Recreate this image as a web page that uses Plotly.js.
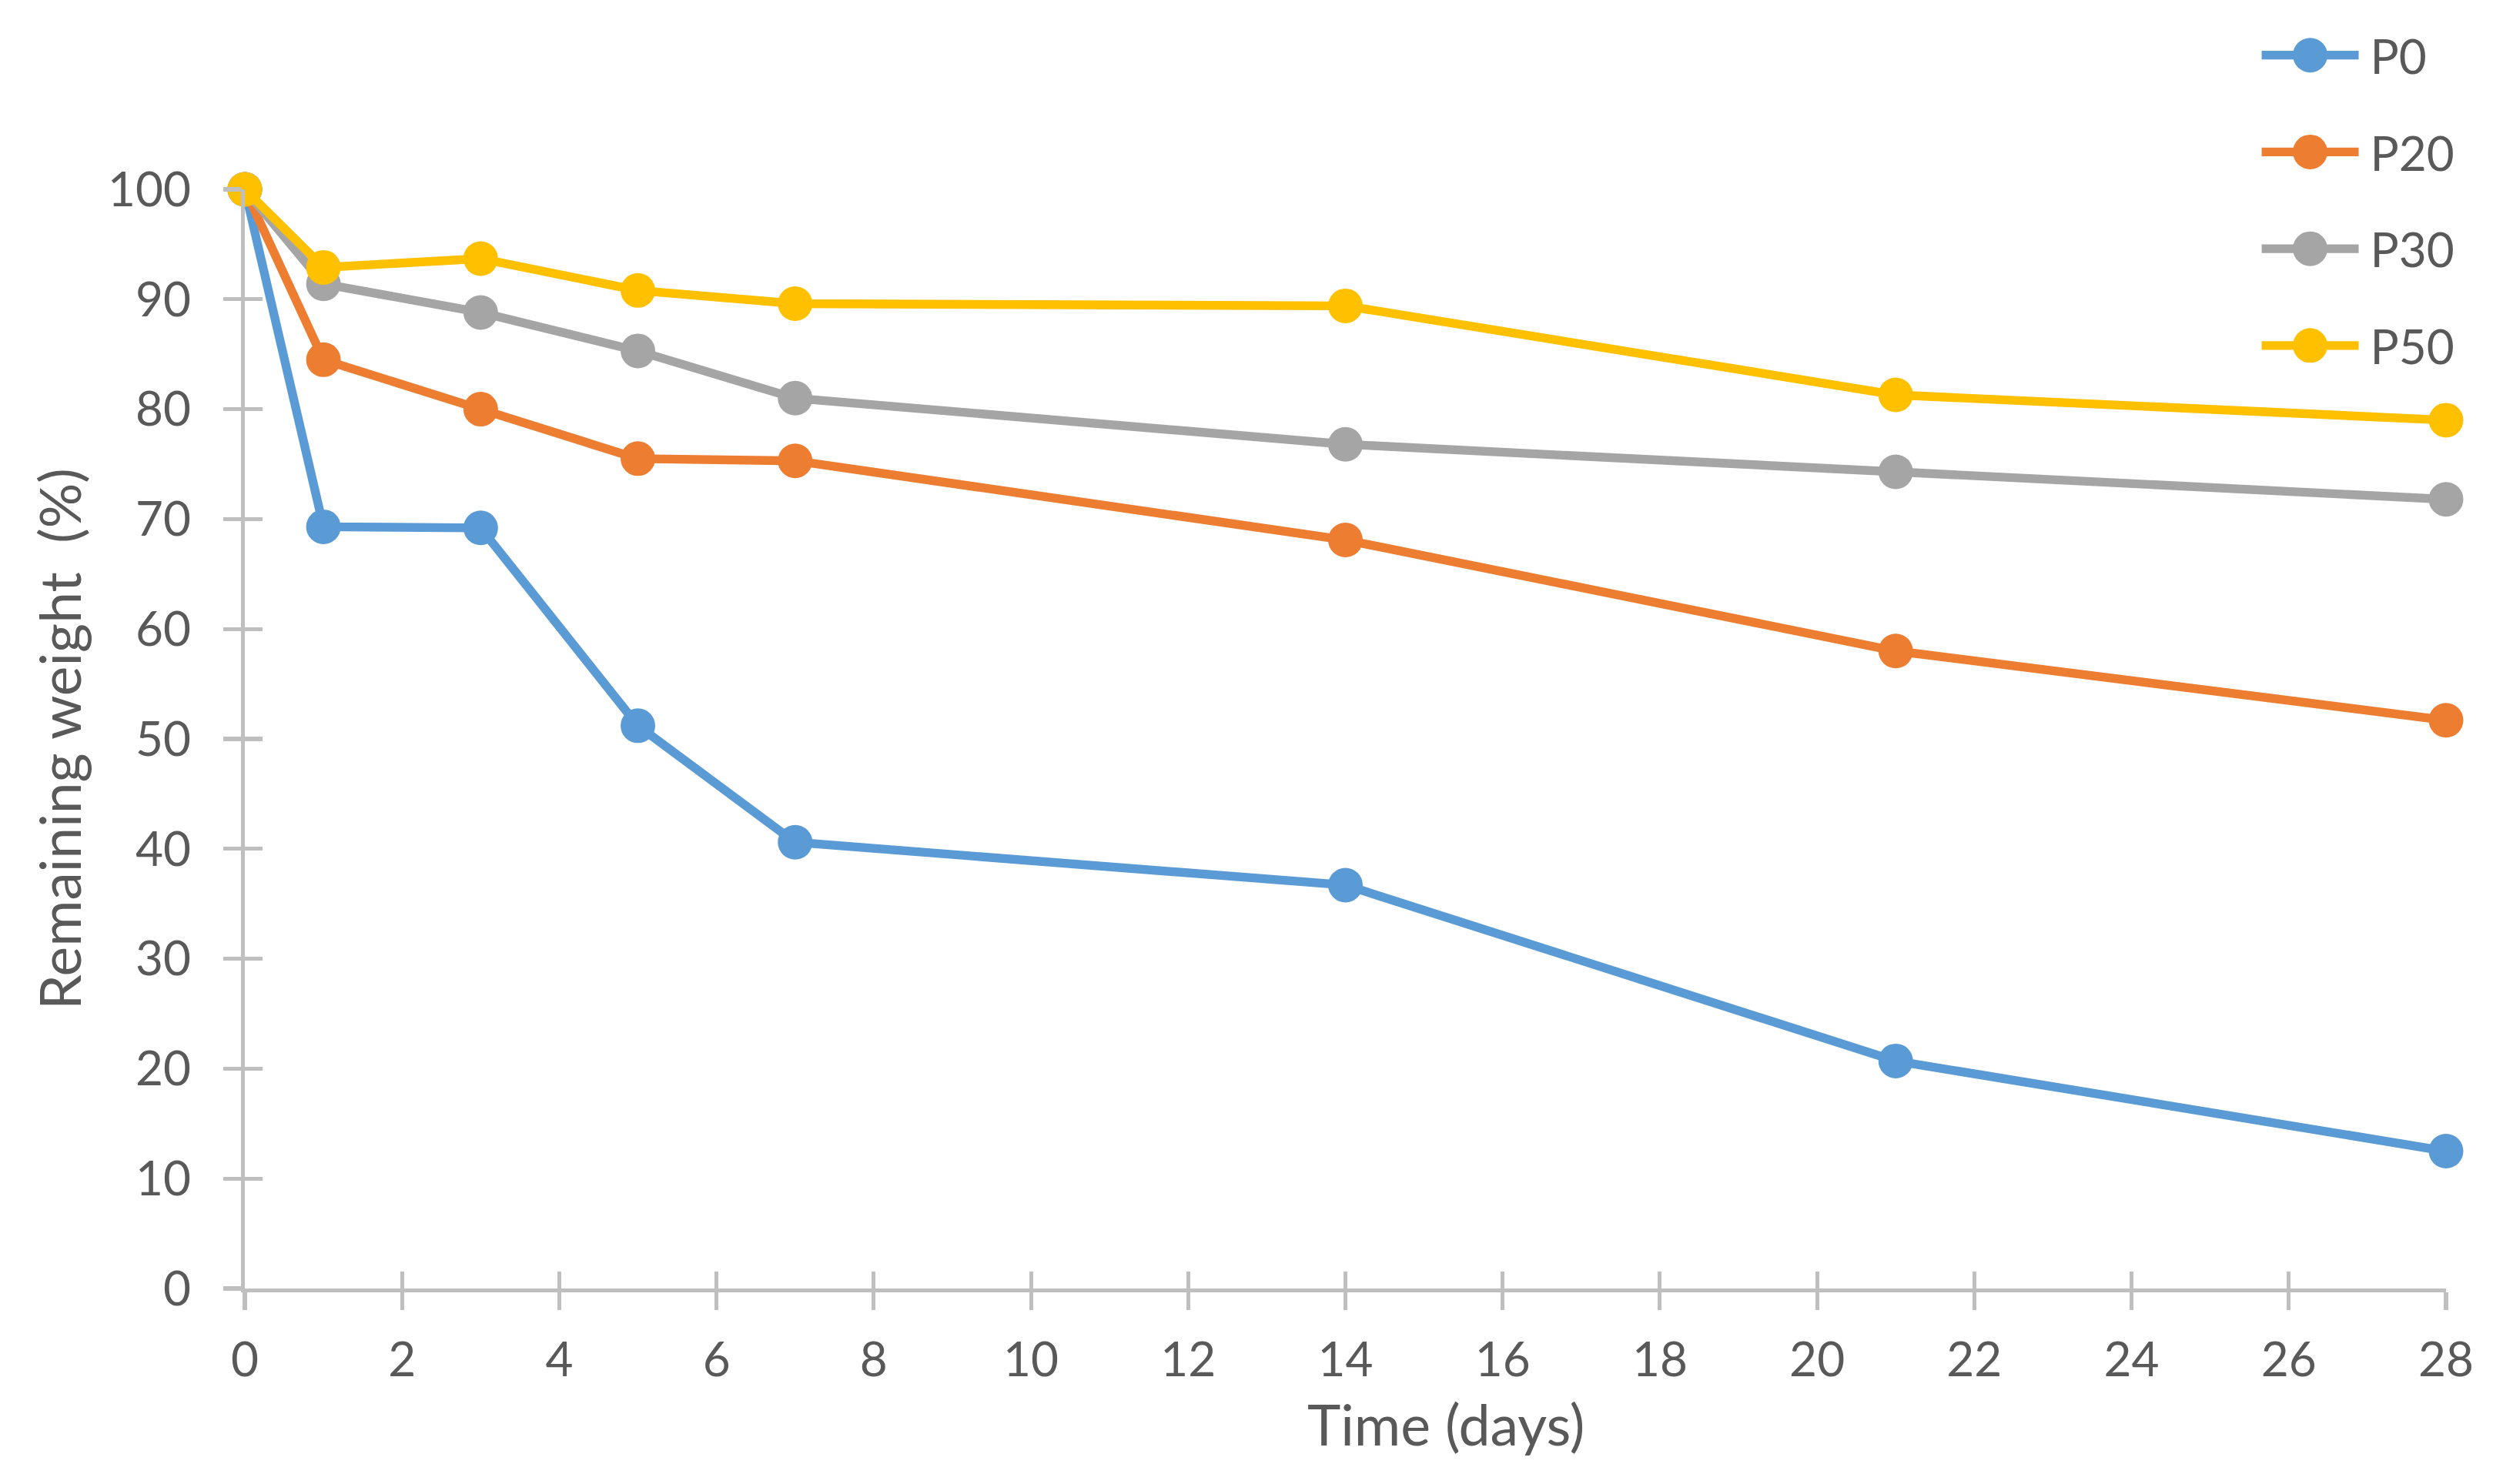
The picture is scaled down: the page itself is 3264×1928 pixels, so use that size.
<!DOCTYPE html>
<html>
<head>
<meta charset="utf-8">
<script src="https://cdn.plot.ly/plotly-3.0.1.min.js"></script>
<style>
html { margin: 0; padding: 0; background: #ffffff; }
body { margin: 0; padding: 0; background: #ffffff; width: 3264px; height: 1928px; position: relative; }
#chart { position: absolute; left: 0; top: 0; width: 1088px; height: 643px; transform: scale(3); transform-origin: 0 0; }
</style>
</head>
<body>
<div id="chart"></div>
<script>
// Data
var days = [0, 1, 3, 5, 7, 14, 21, 28];
var seriesNames = ["P0", "P20", "P30", "P50"];
var P0  = [100, 69.3, 69.2, 51.2, 40.6, 36.7, 20.7, 12.5];
var P20 = [100, 84.5, 80.0, 75.5, 75.3, 68.1, 58.0, 51.7];
var P30 = [100, 91.4, 88.8, 85.3, 81.0, 76.8, 74.3, 71.8];
var P50 = [100, 92.9, 93.7, 90.8, 89.6, 89.4, 81.3, 79.0];
var seriesColors = ["#5B9BD5", "#ED7D31", "#A5A5A5", "#FFC000"];
var xTickVals = [0, 2, 4, 6, 8, 10, 12, 14, 16, 18, 20, 22, 24, 26, 28];
var yTickVals = [0, 10, 20, 30, 40, 50, 60, 70, 80, 90, 100];
var xTitle = "Time (days)";
var yTitle = "Remaining weight\u00a0 (%)";

var values = [P0, P20, P30, P50];
var FONT = "Lato, 'Open Sans', sans-serif";
var TXT = "#595959";
var AX = "#BFBFBF";

var traces = values.map(function (v, i) {
  return {
    type: "scatter",
    mode: "lines+markers",
    name: seriesNames[i],
    legendgroup: seriesNames[i],
    x: days,
    y: v,
    cliponaxis: false,
    line: { color: seriesColors[i], width: 3.8 },
    marker: { color: seriesColors[i], size: 15 }
  };
});
// empty trace to bind the overlay axes that draw the inner half of the crossing ticks
traces.push({ type: "scatter", x: [], y: [], xaxis: "x2", yaxis: "y2", showlegend: false, hoverinfo: "skip" });

var layout = {
  width: 1088,
  height: 643,
  paper_bgcolor: "#ffffff",
  plot_bgcolor: "#ffffff",
  margin: { l: 106, r: 29.33, t: 82, b: 85.33, autoexpand: false },
  font: { family: FONT, color: TXT, size: 20.7 },
  showlegend: true,
  legend: {
    x: 0.911, xanchor: "left",
    y: 1.164, yanchor: "top",
    font: { family: FONT, color: TXT, size: 20.7 },
    tracegroupgap: 12,
    itemwidth: 42,
    itemsizing: "trace",
    bgcolor: "rgba(0,0,0,0)"
  },
  annotations: [{
    text: xTitle,
    xref: "paper", yref: "paper",
    x: 0.546, y: -0.1225,
    xanchor: "center", yanchor: "middle",
    showarrow: false,
    font: { family: FONT, color: TXT, size: 24.5 }
  }],
  xaxis: {
    range: [0, 28],
    tickmode: "array",
    tickvals: xTickVals,
    ticks: "outside",
    ticklen: 7.5,
    tickwidth: 1.7,
    tickcolor: AX,
    showline: true,
    linecolor: AX,
    linewidth: 1.7,
    showgrid: false,
    zeroline: false,
    ticklabelstandoff: 4,
    tickfont: { family: FONT, color: TXT, size: 20.7 }
  },
  yaxis: {
    range: [0, 100],
    tickmode: "array",
    tickvals: yTickVals,
    ticks: "outside",
    ticklen: 7.5,
    tickwidth: 1.7,
    tickcolor: AX,
    showline: true,
    linecolor: AX,
    linewidth: 1.7,
    showgrid: false,
    zeroline: false,
    ticklabelstandoff: 10,
    tickfont: { family: FONT, color: TXT, size: 20.7 },
    title: { text: yTitle, font: { family: FONT, color: TXT, size: 24.4 }, standoff: 4 }
  },
  xaxis2: {
    overlaying: "x",
    anchor: "y2",
    range: [0, 28],
    tickmode: "array",
    tickvals: xTickVals,
    ticks: "inside",
    ticklen: 7.5,
    tickwidth: 1.7,
    tickcolor: AX,
    showline: false,
    showticklabels: false,
    showgrid: false,
    zeroline: false
  },
  yaxis2: {
    overlaying: "y",
    anchor: "x2",
    range: [0, 100],
    tickmode: "array",
    tickvals: yTickVals,
    ticks: "inside",
    ticklen: 7.5,
    tickwidth: 1.7,
    tickcolor: AX,
    showline: false,
    showticklabels: false,
    showgrid: false,
    zeroline: false
  }
};

Plotly.newPlot("chart", traces, layout, { displayModeBar: false, responsive: false, staticPlot: true });
</script>
</body>
</html>
